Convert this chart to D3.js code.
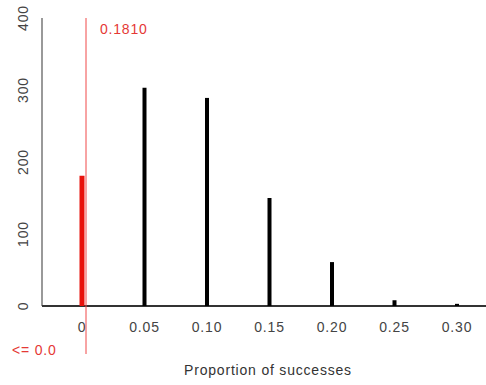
<!DOCTYPE html>
<html>
<head>
<meta charset="utf-8">
<script src="https://cdn.jsdelivr.net/npm/d3@7"></script>
<style>
  body { margin: 0; background: #fff; }
  text { font-family: "Liberation Sans", Arial, sans-serif; font-size: 14px; letter-spacing: 0.8px; }
</style>
</head>
<body>
<svg id="chart" width="486" height="385"></svg>
<script>
// proportion of successes and their counts
const proportions = [0, 0.05, 0.10, 0.15, 0.20, 0.25, 0.30];
const counts = [181, 303, 289, 150, 61, 8, 3];
const xTicks = [0, 0.05, 0.10, 0.15, 0.20, 0.25, 0.30];
const xTickLabels = ["0", "0.05", "0.10", "0.15", "0.20", "0.25", "0.30"];
const yTicks = [0, 100, 200, 300, 400];
const observed = 0.0;
const pValueLabel = "0.1810";
const tailLabel = "<= 0.0";

const svg = d3.select("#chart");

const x = d3.scaleLinear().domain([0, 0.30]).range([82, 457]);
const y = d3.scaleLinear().domain([0, 400]).range([306, 18]);

// y axis: line only, rotated labels
svg.append("line")
	.attr("x1", 42).attr("x2", 42)
	.attr("y1", y(400)).attr("y2", y(0))
	.attr("stroke", "#777").attr("stroke-width", 1.5);

svg.selectAll(".ylab")
	.data(yTicks)
	.enter().append("text")
	.attr("class", "ylab")
	.attr("transform", d => "translate(28," + y(d) + ") rotate(-90)")
	.attr("text-anchor", "middle")
	.attr("fill", "#444")
	.text(d => d);

// x axis line
svg.append("line")
	.attr("x1", 42).attr("x2", 486)
	.attr("y1", y(0)).attr("y2", y(0))
	.attr("stroke", "#333").attr("stroke-width", 2);

svg.selectAll(".xlab")
	.data(xTicks)
	.enter().append("text")
	.attr("class", "xlab")
	.attr("x", d => x(d))
	.attr("y", 332)
	.attr("text-anchor", "middle")
	.attr("fill", "#444")
	.text((d, i) => xTickLabels[i]);

// bars
svg.selectAll(".bar")
	.data(proportions)
	.enter().append("line")
	.attr("class", "bar")
	.attr("x1", d => x(d)).attr("x2", d => x(d))
	.attr("y1", y(0))
	.attr("y2", (d, i) => y(counts[i]))
	.attr("stroke", d => d <= observed ? "#e8120c" : "#000")
	.attr("stroke-width", d => d <= observed ? 5 : 4);

// observed value line
svg.append("line")
	.attr("x1", x(observed) + 4).attr("x2", x(observed) + 4)
	.attr("y1", 18).attr("y2", 354)
	.attr("stroke", "#f04848").attr("stroke-width", 1);

svg.append("text")
	.attr("x", 100).attr("y", 34)
	.attr("fill", "#e53935")
	.text(pValueLabel);

svg.append("text")
	.attr("x", 12).attr("y", 355)
	.attr("fill", "#e53935")
	.text(tailLabel);

svg.append("text")
	.attr("x", 268).attr("y", 375)
	.attr("text-anchor", "middle")
	.attr("fill", "#333")
	.text("Proportion of successes");
</script>
</body>
</html>
